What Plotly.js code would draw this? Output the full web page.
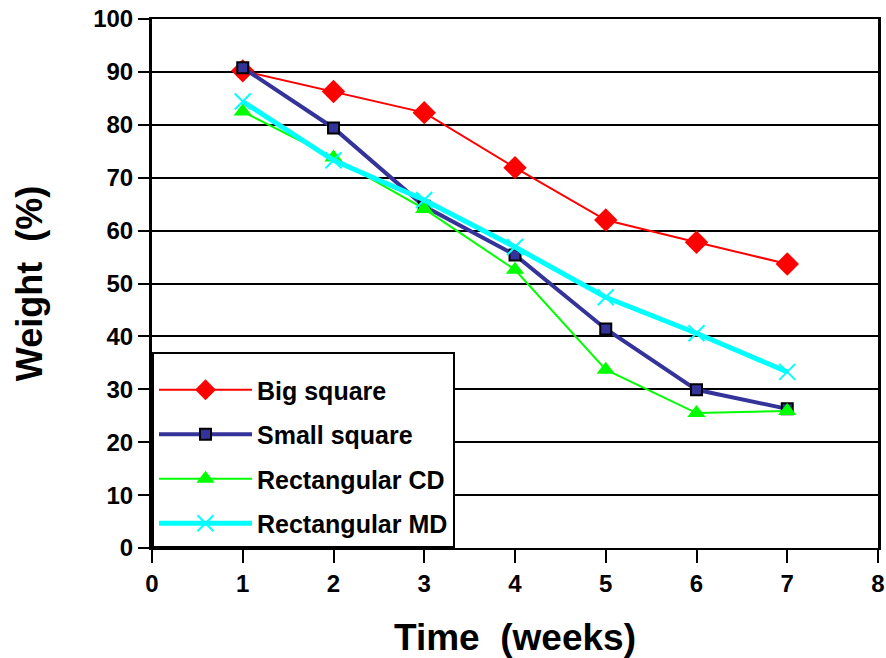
<!DOCTYPE html>
<html>
<head>
<meta charset="utf-8">
<script src="https://cdn.plot.ly/plotly-3.0.1.min.js"></script>
<style>html,body{margin:0;padding:0;background:#fff;}#chart{width:886px;height:658px;}</style>
</head>
<body>
<div id="chart"></div>
<script>
var weeks = [1, 2, 3, 4, 5, 6, 7];
var bigSquare = [90.2, 86.3, 82.3, 71.9, 62.0, 57.8, 53.7];
var smallSquare = [90.8, 79.4, 64.6, 55.4, 41.4, 29.9, 26.3];
var rectCD = [82.5, 73.8, 64.1, 52.6, 33.7, 25.5, 25.9];
var rectMD = [84.4, 73.3, 65.8, 56.9, 47.4, 40.6, 33.3];
var seriesNames = ["Big square", "Small square", "Rectangular CD", "Rectangular MD"];
var xTicks = [0, 1, 2, 3, 4, 5, 6, 7, 8];
var yTicks = [0, 10, 20, 30, 40, 50, 60, 70, 80, 90, 100];

var FONT = "Arial, 'Liberation Sans', sans-serif";

var traces = [
  {x: weeks, y: bigSquare, name: seriesNames[0], legendgroup: "a", mode: "lines+markers",
   line: {color: "#FF0000", width: 2},
   marker: {symbol: "diamond", size: 18, color: "#FF0000"}},
  {x: weeks, y: smallSquare, name: seriesNames[1], legendgroup: "b", mode: "lines+markers",
   line: {color: "#333399", width: 4},
   marker: {symbol: "square", size: 11, color: "#333399", line: {color: "#000000", width: 2}}},
  {x: weeks, y: rectCD, name: seriesNames[2], legendgroup: "c", mode: "lines+markers",
   line: {color: "#00FF00", width: 2},
   marker: {symbol: "triangle-up", size: 16, color: "#00FF00"}},
  {x: weeks, y: rectMD, name: seriesNames[3], legendgroup: "d", mode: "lines+markers",
   line: {color: "#00FFFF", width: 5},
   marker: {symbol: "x-thin", size: 16, color: "#00FFFF", line: {color: "#00FFFF", width: 2}}}
];

var layout = {
  width: 886, height: 658,
  margin: {l: 152, r: 8, t: 19, b: 110},
  paper_bgcolor: "#ffffff", plot_bgcolor: "#ffffff",
  font: {family: FONT, color: "#000000"},
  showlegend: true,
  legend: {
    x: 0, y: 0, xanchor: "left", yanchor: "bottom",
    bgcolor: "#ffffff", bordercolor: "#000000", borderwidth: 2,
    font: {family: FONT, size: 25, color: "#000000", weight: "bold"},
    title: {text: " ", font: {family: FONT, size: 10}},
    traceorder: "grouped", tracegroupgap: 9, itemwidth: 93
  },
  xaxis: {
    range: [0, 8], tickmode: "array", tickvals: xTicks, ticktext: xTicks.map(String),
    showgrid: false, zeroline: false,
    showline: true, linecolor: "#000000", linewidth: 2, mirror: true,
    ticks: "outside", ticklen: 13, tickwidth: 2, tickcolor: "#000000",
    tickfont: {family: FONT, size: 24, color: "#000000", weight: "bold"},
    title: {text: "Time  (weeks)", font: {family: FONT, size: 37, color: "#000000", weight: "bold"}, standoff: 28}
  },
  yaxis: {
    range: [0, 100], tickmode: "array", tickvals: yTicks, ticktext: yTicks.map(String),
    showgrid: true, gridcolor: "#000000", gridwidth: 2, zeroline: false,
    showline: true, linecolor: "#000000", linewidth: 3, mirror: true,
    ticks: "outside", ticklen: 11, tickwidth: 2, tickcolor: "#000000",
    tickfont: {family: FONT, size: 24, color: "#000000", weight: "bold"},
    title: {text: "Weight  (%)", font: {family: FONT, size: 36, color: "#000000", weight: "bold"}, standoff: 40}
  }
};

Plotly.newPlot("chart", traces, layout, {displayModeBar: false, staticPlot: true});
</script>
</body>
</html>
